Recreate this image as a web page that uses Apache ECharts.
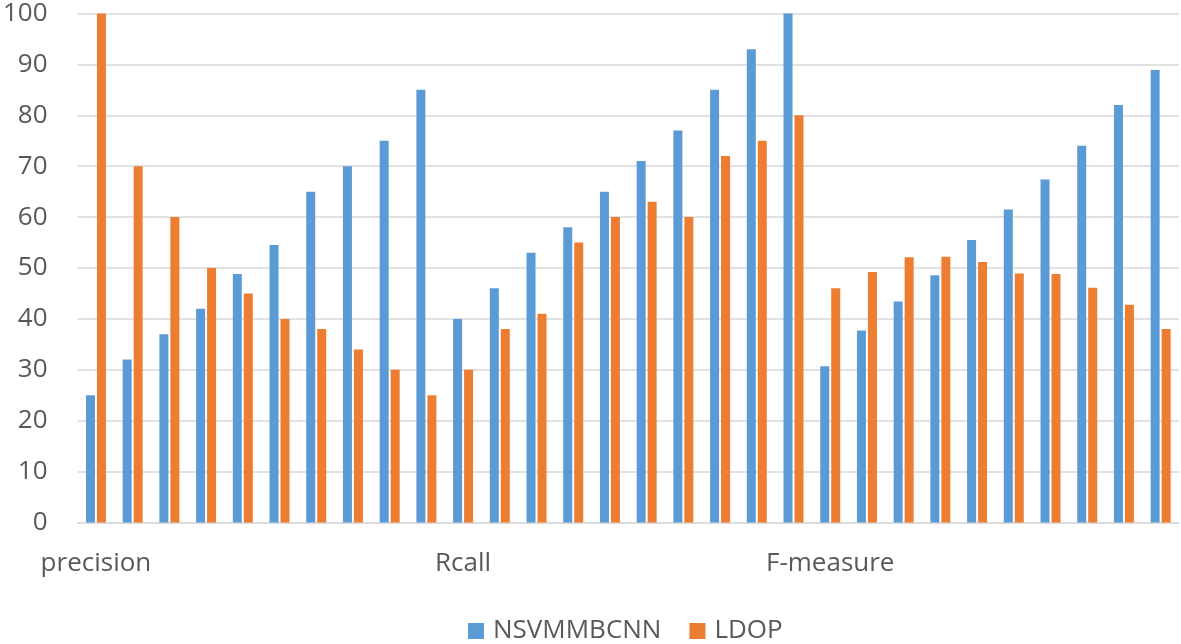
<!DOCTYPE html>
<html>
<head>
<meta charset="utf-8">
<script src="https://cdn.jsdelivr.net/npm/echarts@6/dist/echarts.min.js"></script>
<style>html,body{margin:0;padding:0;background:#fff}#c{width:1181px;height:644px}</style>
</head>
<body>
<div id="c"></div>
<script>
const groups = ['precision', 'Rcall', 'F-measure'];
const perGroup = 10;
const seriesNames = ['NSVMMBCNN', 'LDOP'];
const nsvmmbcnn = [25, 32, 37, 42, 48.8, 54.5, 65, 70, 75, 85,
                   40, 46, 53, 58, 65, 71, 77, 85, 93, 100,
                   30.7, 37.7, 43.4, 48.6, 55.5, 61.5, 67.4, 74, 82, 88.9];
const ldop = [100, 70, 60, 50, 45, 40, 38, 34, 30, 25,
              30, 38, 41, 55, 60, 63, 60, 72, 75, 80,
              46, 49.2, 52.1, 52.2, 51.2, 48.9, 48.8, 46.1, 42.8, 38];
const yTicks = {min: 0, max: 100, interval: 10};

const categories = [];
groups.forEach(g => { for (let i = 0; i < perGroup; i++) categories.push(g + '#' + i); });

const font = 'Open Sans';
const chart = echarts.init(document.getElementById('c'));
chart.setOption({
  animation: false,
  grid: {left: 75, right: 2, top: 13.5, bottom: 121.5},
  legend: {
    left: 463, top: 613, itemWidth: 16, itemHeight: 16, itemGap: 28,
    icon: 'rect',
    textStyle: {fontFamily: font, fontSize: 26, color: '#595959', padding: [0, 0, 0, 4]},
    data: seriesNames
  },
  xAxis: {
    type: 'category', data: categories,
    axisLine: {lineStyle: {color: '#d9d9d9', width: 1.5}},
    axisTick: {show: false},
    axisLabel: {
      interval: 0, margin: 28, fontFamily: font, fontSize: 26, color: '#595959',
      formatter: (v, i) => (i % perGroup === 0 ? groups[i / perGroup] : '')
    }
  },
  yAxis: {
    type: 'value', min: yTicks.min, max: yTicks.max, interval: yTicks.interval,
    axisLine: {show: false}, axisTick: {show: false},
    splitLine: {lineStyle: {color: '#d9d9d9', width: 1.5}},
    axisLabel: {margin: 30, fontFamily: font, fontSize: 26, color: '#595959'}
  },
  series: [
    {name: seriesNames[0], type: 'bar', data: nsvmmbcnn, barWidth: 9, barGap: '22%',
     itemStyle: {color: '#5B9BD5'}},
    {name: seriesNames[1], type: 'bar', data: ldop, barWidth: 9, barGap: '22%',
     itemStyle: {color: '#ED7D31'}}
  ]
});
</script>
</body>
</html>
